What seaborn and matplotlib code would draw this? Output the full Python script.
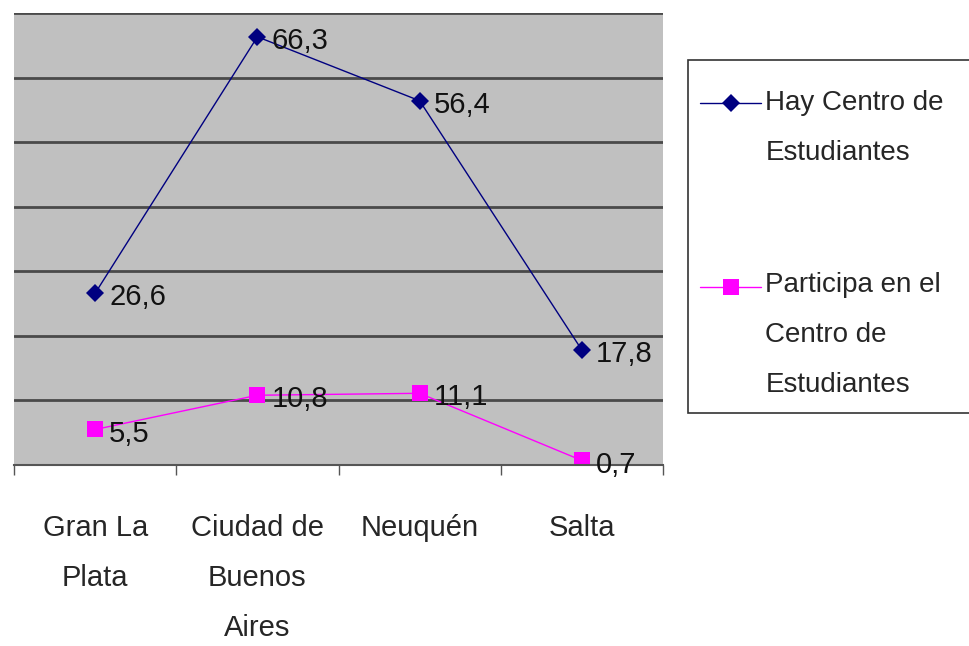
import numpy as np
import pandas as pd
import matplotlib
matplotlib.use("Agg")
import matplotlib.pyplot as plt
from matplotlib.patches import Rectangle
from matplotlib.ticker import FixedLocator, MultipleLocator
import seaborn as sns

# datos
regiones = ["Gran La\nPlata", "Ciudad de\nBuenos\nAires", "Neuquén", "Salta"]
serie_1 = "Hay Centro de\nEstudiantes"
serie_2 = "Participa en el\nCentro de\nEstudiantes"
hay_centro = [26.6, 66.3, 56.4, 17.8]
participa = [5.5, 10.8, 11.1, 0.7]

df = pd.DataFrame({
    "region": regiones * 2,
    "valor": hay_centro + participa,
    "serie": [serie_1] * 4 + [serie_2] * 4,
})

sns.set_style("white")
plt.rcParams['font.family'] = ['Liberation Sans', 'DejaVu Sans']

fig = plt.figure(figsize=(9.69, 6.46), dpi=100)
ax = fig.add_axes([0.0145, 0.2802, 0.6697, 0.6998])
ax.set_facecolor("#c0c0c0")

colores = {serie_1: "#000080", serie_2: "#ff00ff"}
sns.lineplot(data=df, x="region", y="valor", hue="serie", style="serie",
             palette=colores, markers={serie_1: "D", serie_2: "s"}, dashes=False,
             markersize=9, linewidth=1, markeredgewidth=0, sort=False, ax=ax)

# marcadores un poco distintos
for ln in ax.get_lines():
    if ln.get_marker() == "s":
        ln.set_markersize(11)

# etiquetas de valores
for serie in [hay_centro, participa]:
    for i, v in enumerate(serie):
        ax.annotate(f"{v:.1f}".replace(".", ","), (i, v), xytext=(10, -3),
                    textcoords="offset points", va="center", ha="left",
                    fontsize=21, color="#111111")

ax.set_xlim(-0.5, 3.5)
ax.set_ylim(0, 70)
ax.yaxis.set_major_locator(MultipleLocator(10))
ax.grid(axis="y", color="#4a4a4a", linewidth=2)
ax.set_axisbelow(True)
ax.set_yticklabels([])
ax.tick_params(axis="y", length=0)

ax.xaxis.set_minor_locator(FixedLocator([-0.5, 0.5, 1.5, 2.5, 3.5]))
ax.tick_params(axis="x", which="major", length=0, pad=35, labelsize=21)
ax.tick_params(axis="x", which="minor", length=7, width=1, color="#555555", bottom=True, direction="out")
for lab in ax.get_xticklabels():
    lab.set_multialignment("center")
    lab.set_linespacing(2.0)
ax.set_xlabel("")
ax.set_ylabel("")

for s in ["left", "right", "top"]:
    ax.spines[s].set_visible(False)
ax.spines["bottom"].set_color("#555555")
ax.spines["bottom"].set_linewidth(1.5)

# leyenda: caja dibujada aparte, sale por el borde derecho
fig.patches.append(Rectangle((0.71, 0.3607), 0.32, 0.5464, transform=fig.transFigure,
                             facecolor="white", edgecolor="#333333", linewidth=1.2, zorder=-5))
leg = ax.legend(loc="upper left", bbox_to_anchor=(0.7224, 0.860), bbox_transform=fig.transFigure,
                fontsize=20, frameon=False,
                handlelength=2.2, handletextpad=0.15, labelspacing=3.8,
                borderpad=0, borderaxespad=0)
leg.set_zorder(10)
for t in leg.get_texts():
    t.set_linespacing(2.2)

# el símbolo va a la altura de la primera línea del texto (en puntos)
subir = [18.5, 34.5]
for h, dy in zip(leg.legend_handles, subir):
    h.set_ydata(np.asarray(h.get_ydata()) + dy)

fig.savefig("out.png", dpi=100)
